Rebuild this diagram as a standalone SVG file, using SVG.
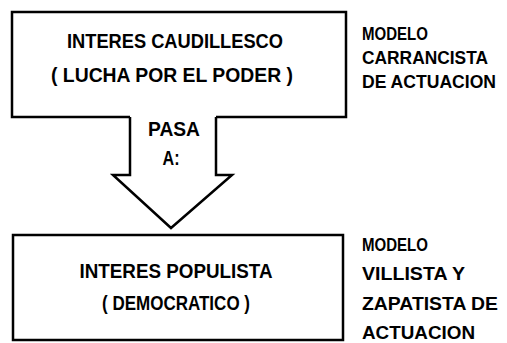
<svg xmlns="http://www.w3.org/2000/svg" width="507" height="343" viewBox="0 0 507 343">
<style>
.ln{fill:none;stroke:#000;stroke-width:2.5;stroke-linejoin:miter}
.t{font-family:"Liberation Sans Narrow","Liberation Sans","Arial Narrow",sans-serif;font-weight:bold;font-size:21px;fill:#000}
.r{font-size:19px}
.c{text-anchor:middle}
</style>
<rect width="507" height="343" fill="#fff"/>
<g id="node-caudillesco">
<path class="ln" d="M130,117 H12 V12 H346 V117 H216"/>
<text class="t c" x="175" y="48" textLength="216" lengthAdjust="spacingAndGlyphs">INTERES CAUDILLESCO</text>
<text class="t c" x="172" y="82" textLength="242" lengthAdjust="spacingAndGlyphs">( LUCHA POR EL PODER )</text>
</g>
<g id="node-carrancista">
<text class="t r" x="362" y="40" textLength="66" lengthAdjust="spacingAndGlyphs">MODELO</text>
<text class="t r" x="362" y="64" textLength="126" lengthAdjust="spacingAndGlyphs">CARRANCISTA</text>
<text class="t r" x="362" y="88" textLength="134" lengthAdjust="spacingAndGlyphs">DE ACTUACION</text>
</g>
<g id="connectors">
<path class="ln" d="M130,117 V175 H113 L171,228 L232,175 H216 V117"/>
<text class="t c" x="174" y="136" textLength="52" lengthAdjust="spacingAndGlyphs">PASA</text>
<text class="t c" x="171" y="165" textLength="17" lengthAdjust="spacingAndGlyphs">A:</text>
</g>
<g id="node-populista">
<rect class="ln" x="13" y="235" width="330" height="105"/>
<text class="t c" x="176" y="278" textLength="193" lengthAdjust="spacingAndGlyphs">INTERES POPULISTA</text>
<text class="t c" x="176" y="310" textLength="148" lengthAdjust="spacingAndGlyphs">( DEMOCRATICO )</text>
</g>
<g id="node-villista">
<text class="t r" x="362" y="251" textLength="66" lengthAdjust="spacingAndGlyphs">MODELO</text>
<text class="t r" x="362" y="280" textLength="103" lengthAdjust="spacingAndGlyphs">VILLISTA Y</text>
<text class="t r" x="362" y="310" textLength="136" lengthAdjust="spacingAndGlyphs">ZAPATISTA DE</text>
<text class="t r" x="362" y="339" textLength="113" lengthAdjust="spacingAndGlyphs">ACTUACION</text>
</g>
</svg>
